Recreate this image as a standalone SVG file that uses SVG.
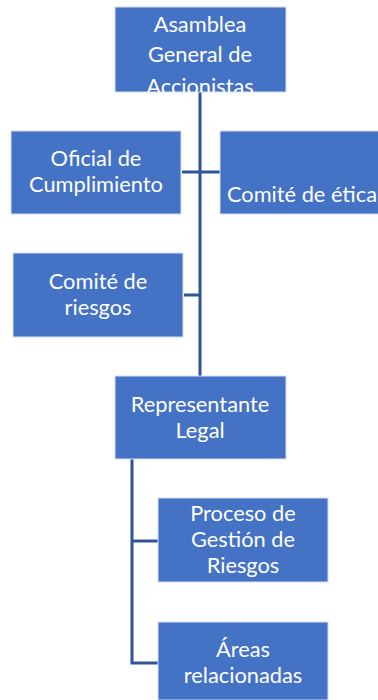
<svg xmlns="http://www.w3.org/2000/svg" width="378" height="700" viewBox="0 0 378 700">
<style>
.box{fill:#4472C4;stroke:#D6DEEF;stroke-width:1}
.t{font-family:Lato,"Open Sans",sans-serif;font-size:21.8px;fill:#FFFFFF;text-anchor:middle}
.c{stroke:#2F5597;stroke-width:3;fill:none}
</style>
<defs>
<clipPath id="clipA"><rect x="115" y="7" width="171" height="85"/></clipPath>
</defs>
<rect width="378" height="700" fill="#FFFFFF"/>
<g id="connectors">
<line class="c" x1="200" y1="92" x2="200" y2="376"/>
<line class="c" x1="182" y1="172" x2="220" y2="172"/>
<line class="c" x1="184" y1="295" x2="200" y2="295"/>
<polyline class="c" points="132,459 132,663 158,663"/>
<line class="c" x1="132" y1="541" x2="158" y2="541"/>
</g>
<g id="asamblea">
<rect class="box" x="115" y="7" width="171" height="85"/>
<g clip-path="url(#clipA)">
<text class="t" x="200" y="32">Asamblea</text>
<text class="t" x="200" y="62">General de</text>
<text class="t" x="200" y="94">Accionistas</text>
</g>
</g>
<g id="oficial">
<rect class="box" x="11" y="131" width="170" height="83"/>
<text class="t" x="96" y="166">Oficial de</text>
<text class="t" x="96" y="192">Cumplimiento</text>
</g>
<g id="etica">
<rect class="box" x="220" y="131" width="170" height="83"/>
<text class="t" x="302" y="202">Comité de ética</text>
</g>
<g id="riesgos">
<rect class="box" x="13" y="253" width="170" height="84"/>
<text class="t" x="98" y="289">Comité de</text>
<text class="t" x="98" y="315">riesgos</text>
</g>
<g id="representante">
<rect class="box" x="115" y="376" width="171" height="83"/>
<text class="t" x="200" y="412">Representante</text>
<text class="t" x="200" y="438">Legal</text>
</g>
<g id="proceso">
<rect class="box" x="158" y="498" width="170" height="84"/>
<text class="t" x="243" y="521">Proceso de</text>
<text class="t" x="243" y="547">Gestión de</text>
<text class="t" x="243" y="573">Riesgos</text>
</g>
<g id="areas">
<rect class="box" x="158" y="622" width="170" height="78"/>
<text class="t" x="243" y="657">Áreas</text>
<text class="t" x="243" y="683">relacionadas</text>
</g>
</svg>
